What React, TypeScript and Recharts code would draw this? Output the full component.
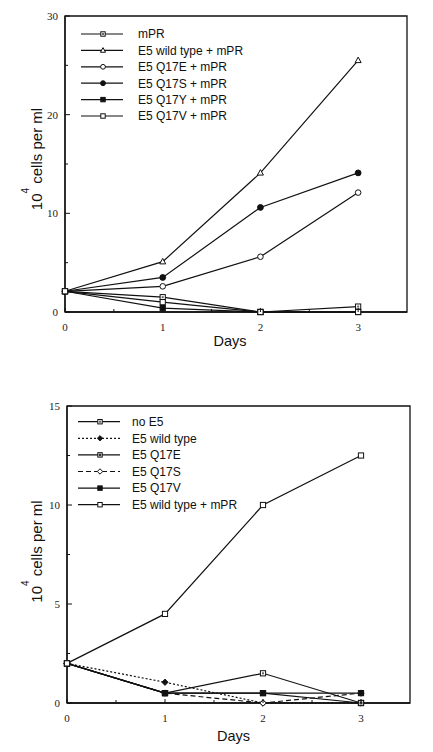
import React from 'react';
import { LineChart, Line, XAxis, YAxis, Legend, ReferenceArea } from 'recharts';

// ---------- data ----------
const days = [0, 1, 2, 3];

const topNames = ['mPR', 'E5 wild type + mPR', 'E5 Q17E + mPR', 'E5 Q17S + mPR', 'E5 Q17Y + mPR', 'E5 Q17V + mPR'];
const topMPR = [2.1, 1.5, 0, 0.55];
const topWT = [2.1, 5.1, 14.1, 25.5];
const topQ17E = [2.1, 2.6, 5.6, 12.1];
const topQ17S = [2.1, 3.5, 10.6, 14.1];
const topQ17Y = [2.1, 0.4, 0, 0];
const topQ17V = [2.1, 1.0, 0, 0];
const topYTicks = [0, 5, 10, 15, 20, 25, 30];
const topYLabels = [0, 10, 20, 30];

const botNames = ['no E5', 'E5 wild type', 'E5 Q17E', 'E5 Q17S', 'E5 Q17V', 'E5 wild type + mPR'];
const botNoE5 = [2, 0.5, 1.5, 0];
const botWT = [2, 1.05, 0, 0];
const botQ17E = [2, 0.5, 0.5, 0];
const botQ17S = [2, 0.5, 0, 0.5];
const botQ17V = [2, 0.5, 0.5, 0.5];
const botWTmPR = [2, 4.5, 10, 12.5];
const botYTicks = [0, 2.5, 5, 7.5, 10, 12.5, 15];
const botYLabels = [0, 5, 10, 15];

const xTicks = [0, 0.5, 1, 1.5, 2, 2.5, 3];
const xLabels = [0, 1, 2, 3];

const topSeries = [topMPR, topWT, topQ17E, topQ17S, topQ17Y, topQ17V];
const botSeries = [botNoE5, botWT, botQ17E, botQ17S, botQ17V, botWTmPR];

const topShapes = ['dotSquare', 'triangle', 'openCircle', 'filledCircle', 'filledSquare', 'openSquare'];
const topDashes = [undefined, undefined, undefined, undefined, undefined, undefined];
const botShapes = ['dotSquare', 'filledDiamond', 'thickSquare', 'openDiamond', 'filledSquare', 'openSquare'];
const botDashes = [undefined, '2 2', undefined, '5 3', undefined, undefined];

const buildRows = (series: number[][]) =>
  days.map((d, i) => {
    const row: any = { day: d };
    series.forEach((s, j) => (row['s' + j] = s[i]));
    return row;
  });

const topData = buildRows(topSeries);
const botData = buildRows(botSeries);

// ---------- styling ----------
const SANS = 'Liberation Sans, Arial, Helvetica, sans-serif';
const SERIF = 'Liberation Serif, Times New Roman, serif';
const INK = '#111';

function Marker({ shape, cx, cy, k = 1 }: { shape: string; cx: number; cy: number; k?: number }) {
  const h = 2.6 * k;
  const sw = 1;
  switch (shape) {
    case 'dotSquare':
      return (
        <g>
          <rect x={cx - h} y={cy - h} width={2 * h} height={2 * h} fill="#fff" stroke={INK} strokeWidth={sw} />
          <rect x={cx - 1} y={cy - 1} width={2} height={2} fill="#666" />
        </g>
      );
    case 'thickSquare':
      return (
        <g>
          <rect x={cx - h} y={cy - h} width={2 * h} height={2 * h} fill="#fff" stroke={INK} strokeWidth={sw} />
          <rect x={cx - 1.5 * k} y={cy - 1.5 * k} width={3 * k} height={3 * k} fill="#333" />
        </g>
      );
    case 'openSquare':
      return <rect x={cx - h} y={cy - h} width={2 * h} height={2 * h} fill="#fff" stroke={INK} strokeWidth={sw} />;
    case 'filledSquare':
      return <rect x={cx - h} y={cy - h} width={2 * h} height={2 * h} fill={INK} stroke={INK} strokeWidth={sw} />;
    case 'triangle':
      return (
        <polygon
          points={`${cx},${cy - 3.3 * k} ${cx - 3 * k},${cy + 2.2 * k} ${cx + 3 * k},${cy + 2.2 * k}`}
          fill="#fff"
          stroke={INK}
          strokeWidth={sw}
        />
      );
    case 'openCircle':
      return <circle cx={cx} cy={cy} r={2.8 * k} fill="#fff" stroke={INK} strokeWidth={sw} />;
    case 'filledCircle':
      return <circle cx={cx} cy={cy} r={2.9 * k} fill={INK} stroke={INK} strokeWidth={sw} />;
    case 'filledDiamond': {
      const r = 3.2 * k;
      return <polygon points={`${cx},${cy - r} ${cx + r},${cy} ${cx},${cy + r} ${cx - r},${cy}`} fill={INK} stroke={INK} strokeWidth={0.8} />;
    }
    case 'openDiamond': {
      const r = 3.2 * k;
      return <polygon points={`${cx},${cy - r} ${cx + r},${cy} ${cx},${cy + r} ${cx - r},${cy}`} fill="#fff" stroke={INK} strokeWidth={sw} />;
    }
    default:
      return null;
  }
}

const makeDot = (shape: string) => (p: any) => {
  if (p.cx == null || p.cy == null) return <g key={`n${p.index}`} />;
  return (
    <g key={`d${p.index}`}>
      <Marker shape={shape} cx={p.cx} cy={p.cy} />
    </g>
  );
};

const makeYTick = (labels: number[]) => (p: any) => {
  const v = p.payload.value;
  const major = labels.includes(v);
  return (
    <g>
      <line x1={p.x} x2={p.x + (major ? 5 : 3)} y1={p.y} y2={p.y} stroke={INK} strokeWidth={1} />
      {major && (
        <text x={p.x - 7} y={p.y + 4} textAnchor="end" fontFamily={SERIF} fontSize={11} fill="#222">
          {v}
        </text>
      )}
    </g>
  );
};

const XTick = (p: any) => {
  const v = p.payload.value;
  const major = xLabels.includes(v);
  return (
    <g>
      <line x1={p.x} x2={p.x} y1={p.y} y2={p.y - (major ? 4 : 3)} stroke={INK} strokeWidth={1} />
      {major && (
        <text x={p.x} y={p.y + 19} textAnchor="middle" fontFamily={SERIF} fontSize={11} fill="#222">
          {v}
        </text>
      )}
    </g>
  );
};

const makeYLabel = (shift: number) => (p: any) => {
  const vb = p.viewBox || {};
  const cy = vb.y + vb.height / 2 - shift;
  return (
    <text
      transform={`translate(42,${cy}) rotate(-90)`}
      textAnchor="middle"
      fontFamily={SANS}
      fontSize={15}
      fill={INK}
    >
      <tspan>10</tspan>
      <tspan dy={-13} fontSize={10}>4</tspan>
      <tspan dy={13}> cells per ml</tspan>
    </text>
  );
};

const makeXLabel = (dx: number, dy: number) => (p: any) => {
  const vb = p.viewBox || {};
  return (
    <text x={vb.x + vb.width / 2 + dx} y={vb.y + dy} textAnchor="middle" fontFamily={SANS} fontSize={14.5} fill={INK}>
      Days
    </text>
  );
};

function LegendBox({ names, shapes, dashes, y0, step, lx1, lx2, mx, tx }: any) {
  return (
    <svg width={220} height={115} style={{ display: 'block' }}>
      {names.map((n: string, i: number) => {
        const y = y0 + i * step;
        return (
          <g key={n}>
            <line x1={lx1} x2={lx2} y1={y} y2={y} stroke={INK} strokeWidth={1.2} strokeDasharray={dashes[i]} />
            <Marker shape={shapes[i]} cx={mx} cy={y} k={0.85} />
            <text x={tx} y={y + 4.3} fontFamily={SANS} fontSize={12} fill={INK}>
              {n}
            </text>
          </g>
        );
      })}
    </svg>
  );
}

function Panel({
  data,
  names,
  shapes,
  dashes,
  yMax,
  yTicks,
  yLabels,
  height,
  yAxisWidth,
  xAxisHeight,
  right,
  legendPos,
  legendGeom,
  yLabelShift,
  xLabelDx,
  xLabelDy,
}: any) {
  return (
    <LineChart width={433} height={height} data={data} margin={{ top: 16, right, bottom: 0, left: 0 }}>
      <ReferenceArea
        x1={0}
        x2={3.5}
        y1={0}
        y2={yMax}
        fill="none"
        fillOpacity={0}
        stroke={INK}
        strokeWidth={1.3}
        ifOverflow="visible"
      />
      <XAxis
        dataKey="day"
        type="number"
        domain={[0, 3.5]}
        ticks={xTicks}
        interval={0}
        tickSize={0}
        tickMargin={0}
        tickLine={false}
        tick={XTick}
        height={xAxisHeight}
        axisLine={{ stroke: INK, strokeWidth: 1.3 }}
        label={makeXLabel(xLabelDx, xLabelDy)}
      />
      <YAxis
        type="number"
        domain={[0, yMax]}
        ticks={yTicks}
        interval={0}
        tickSize={0}
        tickMargin={0}
        tickLine={false}
        tick={makeYTick(yLabels)}
        width={yAxisWidth}
        axisLine={{ stroke: INK, strokeWidth: 1.3 }}
        label={makeYLabel(yLabelShift)}
      />
      <Legend
        layout="vertical"
        verticalAlign="middle"
        align="center"
        wrapperStyle={{ left: legendPos[0], top: legendPos[1], width: 220, height: 115 }}
        content={() => <LegendBox names={names} shapes={shapes} dashes={dashes} {...legendGeom} />}
      />
      {names.map((n: string, j: number) => (
        <Line
          key={n}
          name={n}
          dataKey={'s' + j}
          type="linear"
          stroke={INK}
          strokeWidth={1.2}
          strokeDasharray={dashes[j]}
          dot={makeDot(shapes[j])}
          activeDot={false}
          isAnimationActive={false}
        />
      ))}
    </LineChart>
  );
}

export default function App() {
  return (
    <div style={{ position: 'absolute', left: 0, top: 0, width: 433, height: 752, background: '#fff' }}>
      <div style={{ position: 'absolute', left: 0, top: 0 }}>
        <Panel
          data={topData}
          names={topNames}
          shapes={topShapes}
          dashes={topDashes}
          yMax={30}
          yTicks={topYTicks}
          yLabels={topYLabels}
          height={360}
          yAxisWidth={65}
          xAxisHeight={48}
          right={26}
          legendPos={[70, 24]}
          legendGeom={{ y0: 10, step: 16.4, lx1: 11, lx2: 53, mx: 33, tx: 68 }}
          yLabelShift={5}
          xLabelDx={-6}
          xLabelDy={34}
        />
      </div>
      <div style={{ position: 'absolute', left: 0, top: 390 }}>
        <Panel
          data={botData}
          names={botNames}
          shapes={botShapes}
          dashes={botDashes}
          yMax={15}
          yTicks={botYTicks}
          yLabels={botYLabels}
          height={362}
          yAxisWidth={67}
          xAxisHeight={49}
          right={23}
          legendPos={[70, 22]}
          legendGeom={{ y0: 9.7, step: 16.6, lx1: 8, lx2: 50, mx: 30, tx: 62 }}
          yLabelShift={3}
          xLabelDx={-5}
          xLabelDy={38}
        />
      </div>
    </div>
  );
}
